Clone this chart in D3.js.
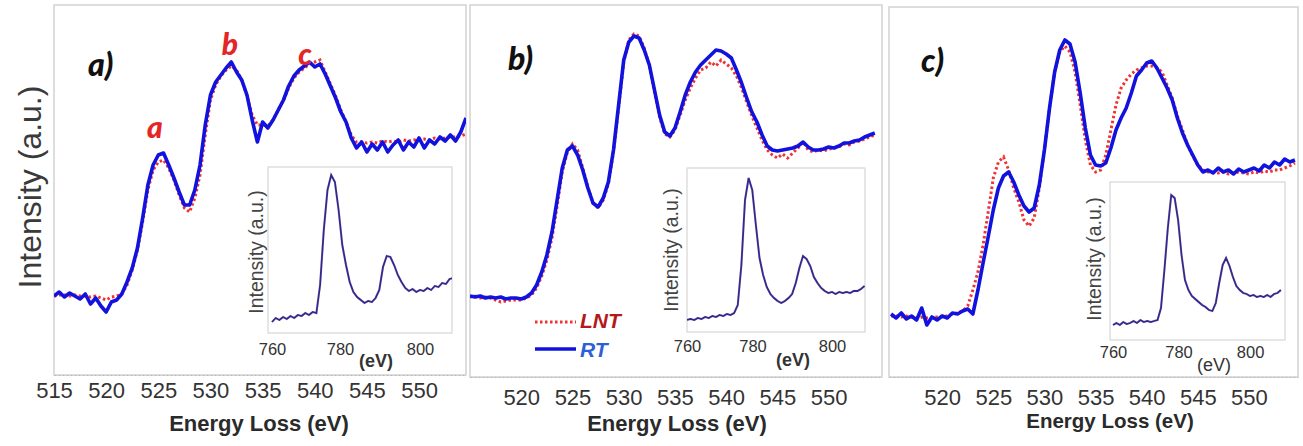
<!DOCTYPE html>
<html><head><meta charset="utf-8">
<script src="https://cdn.jsdelivr.net/npm/d3@7"></script>
<style>body{margin:0;background:#fff}svg{display:block}</style>
</head><body><svg id="c" width="1303" height="446"></svg>
<script>
// ---------- DATA ----------
const energy = [515,515.5,516,516.5,517,517.5,518,518.5,519,519.5,520,520.5,521,521.5,522,522.5,523,523.5,524,524.5,
525,525.5,526,526.5,527,527.5,528,528.5,529,529.5,530,530.5,531,531.5,532,532.5,533,533.5,534,534.5,
535,535.5,536,536.5,537,537.5,538,538.5,539,539.5,540,540.5,541,541.5,542,542.5,543,543.5,544,544.5,
545,545.5,546,546.5,547,547.5,548,548.5,549,549.5,550,550.5,551,551.5,552,552.5,553,553.5,554,554.5];
const rtA = [-1,3,-2,2,-1,-4,1,-9,-3,-11, -17,-7,-5,1,13,27,47,77,110,130, 140,142,130,117,103,90,90,105,130,170,
200,213,220,227,233,223,215,200,175,153, 173,167,175,185,195,209,219,225,229,233, 228,231,221,209,197,183,173,157,147,153,
143,151,145,153,143,150,155,145,153,148, 157,147,155,151,158,154,160,154,163,177];
const lntA = [-1,0,0,-1,0,-1,-1,-2,-1,-3, -5,-2,-1,1,10,25,45,73,105,125, 133,135,127,115,100,87,83,97,120,160,
195,210,219,225,229,225,215,199,180,170, 170,169,175,185,195,207,217,223,227,231, 233,235,223,211,199,185,173,160,153,153,
152,153,152,154,153,154,153,155,154,155, 155,156,155,157,156,157,158,158,159,161];
const rtB = [1,0,1,-1,0,-1,0,-2,-1,-1, -2,0,4,12,25,42,65,97,129,147, 151,142,127,109,94,90,99,115,147,192,
237,255,261,259,247,232,207,182,165,161, 169,185,202,215,225,232,237,242,247,246, 243,239,227,214,199,185,175,162,151,147,
146,147,148,149,151,155,150,147,147,148, 150,149,151,154,154,156,157,160,162,164];
const lntB = [0,1,-1,0,-1,-3,-5,-4,-3,-3, -3,-1,2,9,21,37,59,91,125,145, 153,147,129,110,94,89,97,113,145,189,
235,257,263,261,249,231,205,180,163,160, 167,182,197,209,219,227,229,235,231,237, 233,229,221,209,195,181,169,157,147,142,
139,143,139,144,149,155,147,145,147,146, 148,149,150,153,152,155,156,158,160,162];
const rtC = [1,-3,2,-4,-1,-5,7,-10,-2,-5, -1,-3,2,1,4,6,1,25,52,78, 105,127,139,143,133,120,109,103,107,130,
165,207,243,265,275,271,253,222,187,160, 150,149,152,167,185,197,207,222,239,245, 252,254,247,237,227,215,197,182,170,160,
150,143,145,142,147,143,145,141,146,143, 145,147,144,150,147,153,150,156,153,155];
const lntC = [-1,-1,-2,-1,-2,-3,-2,-3,-3,-2, -1,-1,1,2,4,9,25,43,70,103, 137,153,158,145,127,113,95,89,97,127,
165,207,243,263,269,263,243,210,175,150, 143,145,160,185,210,227,235,241,245,247, 249,249,247,243,230,217,199,185,170,159,
150,145,143,143,142,143,141,142,143,142, 141,143,142,144,143,145,145,147,149,152];

const insetEnergy = [760,761,762,763,764,765,766,767,768,769,770,771,772,773,774,775,776,777,778,779,
780,781,782,783,784,785,786,787,788,789,790,791,792,793,794,795,796,797,798,799,
800,801,802,803,804,805,806,807,808,809];
const insetA = [-2,2,0,3,1,4,2,5,4,7, 5,8,7,35,90,130,145,138,110,75, 55,38,28,23,20,17,19,18,22,30,
53,64,63,55,45,38,32,29,31,28, 30,29,32,30,34,33,37,36,41,42];
const insetB = [0,1,0,2,1,3,2,4,3,5, 4,6,5,7,15,55,120,142,130,95, 62,45,33,26,22,19,17,19,22,26,
37,52,64,61,54,43,37,32,29,27, 28,26,28,27,28,27,29,29,31,34];
const insetC = [0,2,0,3,1,2,4,2,5,3, 4,3,4,5,17,55,97,130,127,105, 70,45,35,29,26,23,20,18,15,14,
22,42,60,67,59,48,39,35,32,31, 29,30,28,29,28,30,28,31,32,35];

const mainTicksA = [515,520,525,530,535,540,545,550];
const mainTicksBC = [520,525,530,535,540,545,550];
const insetTicks = [760,780,800];
const panelLetters = ["a)","b)","c)"];
const peakLabels = ["a","b","c"];
const seriesNames = ["LNT","RT"];

// ---------- LAYOUT ----------
const svg = d3.select("#c");
const FONT = "'Liberation Sans', Arial, sans-serif";
const BLUE = "#1212de", RED = "#f03232";

const panels = [
  {rt: rtA, lnt: lntA, inset: insetA, ticks: mainTicksA, letter: panelLetters[0],
   box:[54,466,5,375], xd:[515,554.5], yd:[-80,290], tickY:398, titleY:431, titleX:259, titleSize:22,
   letterPos:[88,76],
   ibox:[268,452,167,333], ixd:[758.92,808.65], iyd:[-13,153], itickY:355, i780dx:-6, ievX:376, ievY:367, ievBold:true,
   iylab:[263,252]},
  {rt: rtB, lnt: lntB, inset: insetB, ticks: mainTicksBC, letter: panelLetters[1],
   box:[470,882,5,377], xd:[515,555.2], yd:[-80,292], tickY:405, titleY:431, titleX:677, titleSize:22,
   letterPos:[508,70],
   ibox:[687,865,168,332], ixd:[760,809.1], iyd:[-12,152], itickY:352, i780dx:-7, ievX:793, ievY:366, ievBold:true,
   iylab:[678,250]},
  {rt: rtC, lnt: lntC, inset: insetC, ticks: mainTicksBC, letter: panelLetters[2],
   box:[889,1298,7,377], xd:[514.8,554.8], yd:[-62,308], tickY:405, titleY:428, titleX:1110, titleSize:20.5,
   letterPos:[921,72],
   ibox:[1110,1285,182,340], ixd:[759.12,810.2], iyd:[-15,143], itickY:358, i780dx:-3, ievX:1214, ievY:371, ievBold:false,
   iylab:[1101,259]}
];

const defs = svg.append("defs");

panels.forEach((p, i) => {
  const [x0,x1,y0,y1] = p.box;
  const x = d3.scaleLinear().domain(p.xd).range([x0,x1]);
  const y = d3.scaleLinear().domain(p.yd).range([y1,y0]);
  const g = svg.append("g");

  g.append("rect").attr("x",x0).attr("y",y0).attr("width",x1-x0).attr("height",y1-y0)
    .attr("fill","#fff").attr("stroke","#d2d2d2").attr("stroke-width",1.5);

  defs.append("clipPath").attr("id","clip"+i).append("rect")
    .attr("x",x0).attr("y",y0).attr("width",x1-x0).attr("height",y1-y0);

  const ax = g.append("g").attr("transform",`translate(0,${y1})`)
    .call(d3.axisBottom(x).tickValues(p.ticks).tickSize(0).tickFormat(d3.format("d")));
  ax.select(".domain").attr("stroke","#b8b8b8").attr("stroke-dasharray","2,2").attr("stroke-width",1.2);
  ax.selectAll("text").attr("font-family",FONT).attr("font-size",22).attr("fill","#333")
    .attr("dy",null).attr("y",p.tickY - y1);

  g.append("text").attr("x",p.titleX).attr("y",p.titleY).attr("text-anchor","middle")
    .attr("font-family",FONT).attr("font-weight","bold").attr("font-size",p.titleSize).attr("fill","#2a2a2a")
    .text("Energy Loss (eV)");

  const line = d3.line().x((d,k)=>x(energy[k])).y(d=>y(d));
  const lg = g.append("g").attr("clip-path",`url(#clip${i})`);
  lg.append("path").datum(p.lnt).attr("d",line).attr("fill","none").attr("stroke",RED)
    .attr("stroke-width",3).attr("stroke-dasharray","2.5,2.5");
  lg.append("path").datum(p.rt).attr("d",line).attr("fill","none").attr("stroke",BLUE)
    .attr("stroke-width",3.6).attr("stroke-linejoin","round");

  g.append("text").attr("x",p.letterPos[0]).attr("y",p.letterPos[1])
    .attr("font-family","Lato, 'Open Sans', sans-serif").attr("font-weight","900").attr("font-style","italic")
    .attr("font-size",32).attr("fill","#111").text(p.letter);

  const [ix0,ix1,iy0,iy1] = p.ibox;
  const ix = d3.scaleLinear().domain(p.ixd).range([ix0,ix1]);
  const iy = d3.scaleLinear().domain(p.iyd).range([iy1,iy0]);
  const ig = g.append("g");
  ig.append("rect").attr("x",ix0).attr("y",iy0).attr("width",ix1-ix0).attr("height",iy1-iy0)
    .attr("fill","#fff").attr("stroke","#d6d6d6").attr("stroke-width",1.2);
  defs.append("clipPath").attr("id","iclip"+i).append("rect")
    .attr("x",ix0).attr("y",iy0).attr("width",ix1-ix0).attr("height",iy1-iy0);
  const iline = d3.line().x((d,k)=>ix(insetEnergy[k])).y(d=>iy(d));
  const ilg = ig.append("g").attr("clip-path",`url(#iclip${i})`);
  ilg.append("path").datum(p.inset).attr("d",iline).attr("fill","none").attr("stroke","#d05070")
    .attr("stroke-width",2.4).attr("opacity",0.3);
  ilg.append("path").datum(p.inset).attr("d",iline).attr("fill","none").attr("stroke","#2b2b92")
    .attr("stroke-width",1.8);

  const iax = ig.append("g").attr("transform",`translate(0,${iy1})`)
    .call(d3.axisBottom(ix).tickValues(insetTicks).tickSize(0).tickFormat(d3.format("d")));
  iax.select(".domain").remove();
  iax.selectAll("text").attr("font-family",FONT).attr("font-size",16.5).attr("fill","#333")
    .attr("dy",null).attr("y",p.itickY - iy1)
    .attr("dx",d => d===780 ? p.i780dx : 0);
  ig.append("text").attr("x",p.ievX).attr("y",p.ievY).attr("text-anchor","middle")
    .attr("font-family",FONT).attr("font-weight",p.ievBold?"bold":"normal").attr("font-size",18).attr("fill","#333")
    .text("(eV)");
  ig.append("text").attr("transform",`translate(${p.iylab[0]},${p.iylab[1]}) rotate(-90)`)
    .attr("text-anchor","middle").attr("font-family",FONT).attr("font-size",19.5).attr("fill","#444")
    .text("Intensity (a.u.)");

  if (i === 0) {
    svg.append("text").attr("transform","translate(41,187) rotate(-90)").attr("text-anchor","middle")
      .attr("font-family",FONT).attr("font-size",32).attr("fill","#3a3a3a").text("Intensity (a.u.)");
    const lbl = [[peakLabels[0],155,138],[peakLabels[1],230,55],[peakLabels[2],305,65]];
    lbl.forEach(([t,lx,ly]) => g.append("text").attr("x",lx).attr("y",ly).attr("text-anchor","middle")
      .attr("font-family","Lato, 'Open Sans', sans-serif").attr("font-weight","900").attr("font-style","italic")
      .attr("font-size",30).attr("fill","#e42626").text(t));
  }
  if (i === 1) {
    const leg = g.append("g");
    leg.append("line").attr("x1",535).attr("x2",576).attr("y1",322).attr("y2",322)
      .attr("stroke",RED).attr("stroke-width",3).attr("stroke-dasharray","2.5,2.5");
    leg.append("line").attr("x1",535).attr("x2",576).attr("y1",349).attr("y2",349)
      .attr("stroke",BLUE).attr("stroke-width",3.6);
    leg.append("text").attr("x",580).attr("y",328).attr("font-family",FONT).attr("font-weight","bold")
      .attr("font-style","italic").attr("font-size",21).attr("fill","#b3191c").text(seriesNames[0]);
    leg.append("text").attr("x",580).attr("y",357).attr("font-family",FONT).attr("font-weight","bold")
      .attr("font-style","italic").attr("font-size",21).attr("fill","#2d5fd6").text(seriesNames[1]);
  }
});
</script></body></html>
